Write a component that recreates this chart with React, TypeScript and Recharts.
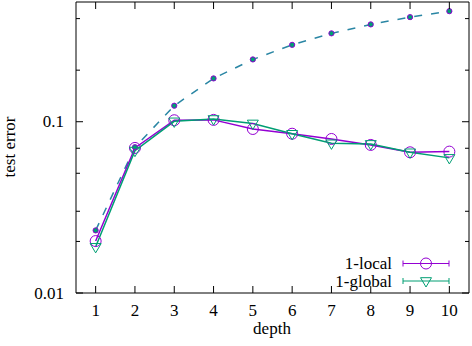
import React from 'react';
import { LineChart, Line, XAxis, YAxis, Customized } from 'recharts';

const depths = [1, 2, 3, 4, 5, 6, 7, 8, 9, 10];
const baseline = [0.0232, 0.071, 0.124, 0.179, 0.231, 0.281, 0.328, 0.37, 0.408, 0.442];
const local1 = [0.0201, 0.0703, 0.102, 0.1025, 0.0907, 0.0851, 0.0793, 0.0732, 0.0663, 0.0669];
const global1 = [0.0186, 0.0678, 0.1005, 0.1037, 0.0977, 0.085, 0.0748, 0.0742, 0.0663, 0.0615];
const yTicks = [0.01, 0.02, 0.03, 0.04, 0.05, 0.06, 0.07, 0.08, 0.09, 0.1, 0.2, 0.3, 0.4];
const yLabels: Record<string, string> = { '0.01': '0.01', '0.1': '0.1' };
const legendNames = ['1-local', '1-global'];

const data = depths.map((d, i) => ({ depth: d, base: baseline[i], local: local1[i], global: global1[i] }));

const PURPLE = '#9400d3';
const GREEN = '#009e73';
const FONT = "'Liberation Serif', 'Times New Roman', serif";
const TXT: React.CSSProperties = { fontFamily: FONT, fontSize: 17 };

const LeftTick = (p: any) => {
  const v = p.payload.value;
  const major = yLabels[String(v)] !== undefined;
  const len = major ? 7 : 4;
  return (
    <g>
      <line x1={p.x} x2={p.x + len} y1={p.y} y2={p.y} stroke="#000" strokeWidth={1} />
      {major && (
        <text x={p.x - 12} y={p.y + 5.5} textAnchor="end" style={TXT} fill="#000">
          {yLabels[String(v)]}
        </text>
      )}
    </g>
  );
};

const RightTick = (p: any) => {
  const v = p.payload.value;
  const major = yLabels[String(v)] !== undefined;
  const len = major ? 7 : 4;
  return <line x1={p.x - len} x2={p.x} y1={p.y} y2={p.y} stroke="#000" strokeWidth={1} />;
};

const BottomTick = (p: any) => (
  <g>
    <line x1={p.x} x2={p.x} y1={p.y - 7} y2={p.y} stroke="#000" strokeWidth={1} />
    <text x={p.x} y={p.y + 23} textAnchor="middle" style={TXT} fill="#000">
      {p.payload.value}
    </text>
  </g>
);

const TopTick = (p: any) => (
  <line x1={p.x} x2={p.x} y1={p.y} y2={p.y + 7} stroke="#000" strokeWidth={1} />
);

const Circle = (p: any) => (
  <circle key={p.index} cx={p.cx} cy={p.cy} r={5.5} fill="none" stroke={PURPLE} strokeWidth={1} />
);

const Tri = (p: any) => {
  const s = 5.5;
  const { cx, cy } = p;
  return (
    <path
      key={p.index}
      d={`M${cx - s},${cy - s * 0.6} L${cx + s},${cy - s * 0.6} L${cx},${cy + s * 1.1} Z`}
      fill="none"
      stroke={GREEN}
      strokeWidth={1}
    />
  );
};

const Dot = (p: any) => (
  <circle key={p.index} cx={p.cx} cy={p.cy} r={2.6} fill={GREEN} stroke={PURPLE} strokeWidth={1} />
);

const LegendBox = () => {
  const rows = [
    { name: legendNames[0], color: PURPLE, y: 263.5, kind: 'c' },
    { name: legendNames[1], color: GREEN, y: 281, kind: 't' },
  ];
  return (
    <g>
      <text x={15} y={147} transform="rotate(-90 15 147)" textAnchor="middle" style={TXT} fill="#000">
        test error
      </text>
      <text x={272} y={334} textAnchor="middle" style={TXT} fill="#000">
        depth
      </text>
      {rows.map((r) => (
        <g key={r.name}>
          <text x={392} y={r.y + 5.5} textAnchor="end" style={TXT} fill="#000">
            {r.name}
          </text>
          <line x1={403} x2={449} y1={r.y} y2={r.y} stroke={r.color} strokeWidth={1} />
          <line x1={403} x2={403} y1={r.y - 3} y2={r.y + 3} stroke={r.color} strokeWidth={1} />
          <line x1={449} x2={449} y1={r.y - 3} y2={r.y + 3} stroke={r.color} strokeWidth={1} />
          {r.kind === 'c' ? (
            <circle cx={426} cy={r.y} r={5.5} fill="none" stroke={r.color} strokeWidth={1} />
          ) : (
            <path
              d={`M${426 - 5.5},${r.y - 3.3} L${426 + 5.5},${r.y - 3.3} L426,${r.y + 6} Z`}
              fill="none"
              stroke={r.color}
              strokeWidth={1}
            />
          )}
        </g>
      ))}
    </g>
  );
};

export default function App() {
  return (
    <div style={{ position: 'absolute', left: 0, top: 0, width: 472, height: 346, background: '#fff' }}>
      <LineChart width={472} height={346} data={data} margin={{ top: 1, right: 0, bottom: 0, left: 0 }}>
        <XAxis
          xAxisId="b"
          dataKey="depth"
          type="number"
          domain={[0.5, 10.5]}
          ticks={depths}
          height={53}
          tickSize={0}
          tickMargin={0}
          tick={<BottomTick />}
          axisLine={{ stroke: '#000', strokeWidth: 1 }}
        />
        <XAxis
          xAxisId="t"
          orientation="top"
          dataKey="depth"
          type="number"
          domain={[0.5, 10.5]}
          ticks={depths}
          height={1}
          tickSize={0}
          tickMargin={0}
          tick={<TopTick />}
          axisLine={{ stroke: '#000', strokeWidth: 1 }}
        />
        <YAxis
          yAxisId="l"
          scale="log"
          type="number"
          domain={[0.01, 0.5]}
          allowDataOverflow
          ticks={yTicks}
          width={76}
          tickSize={0}
          tickMargin={0}
          tick={<LeftTick />}
          axisLine={{ stroke: '#000', strokeWidth: 1 }}
        />
        <YAxis
          yAxisId="r"
          orientation="right"
          scale="log"
          type="number"
          domain={[0.01, 0.5]}
          allowDataOverflow
          ticks={yTicks}
          width={3}
          tickSize={0}
          tickMargin={0}
          tick={<RightTick />}
          axisLine={{ stroke: '#000', strokeWidth: 1 }}
        />
        <Line
          xAxisId="b"
          yAxisId="l"
          dataKey="base"
          stroke="#2a86a4"
          strokeWidth={1.5}
          strokeDasharray="8 9"
          dot={<Dot />}
          isAnimationActive={false}
        />
        <Line
          xAxisId="b"
          yAxisId="l"
          dataKey="local"
          stroke={PURPLE}
          strokeWidth={1.5}
          dot={<Circle />}
          isAnimationActive={false}
        />
        <Line
          xAxisId="b"
          yAxisId="l"
          dataKey="global"
          stroke={GREEN}
          strokeWidth={1.5}
          dot={<Tri />}
          isAnimationActive={false}
        />
        <Customized component={LegendBox} />
      </LineChart>
    </div>
  );
}
